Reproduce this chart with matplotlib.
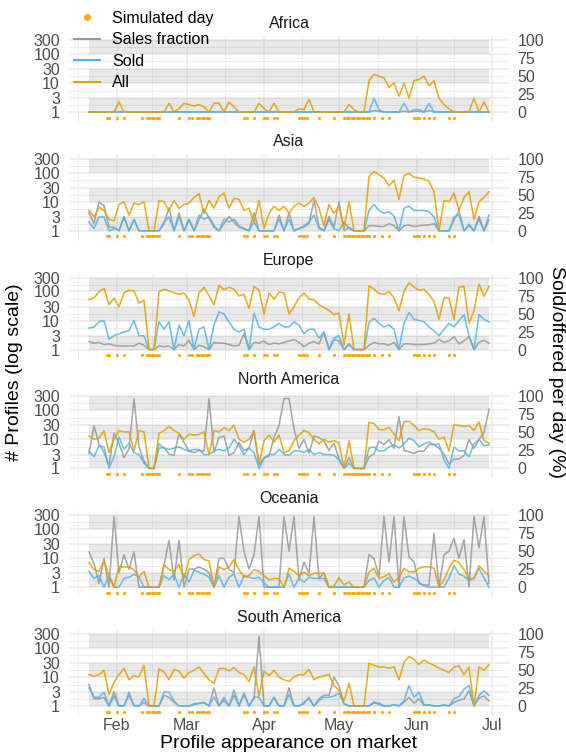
#!/usr/bin/env python3
"""Profiles per day and region (log scale) with the sold share on a second axis."""

import matplotlib

matplotlib.use("Agg")  # headless
import matplotlib.pyplot as plt  # noqa: E402
import numpy as np  # noqa: E402
import pandas as pd  # noqa: E402
from matplotlib.lines import Line2D  # noqa: E402
from matplotlib.ticker import FixedLocator, NullFormatter  # noqa: E402

plt.rcParams["font.family"] = ["Liberation Sans", "DejaVu Sans"]

REGIONS = ["Africa", "Asia", "Europe", "North America", "Oceania", "South America"]
START = "2022-01-21"
N_POINTS = 81  # one value every second day, 21 Jan .. 30 Jun

# days (counted from START) that were simulated
SIM_DAY_OFFSETS = [7, 8, 11, 14, 21, 23, 24, 25, 26, 27, 28, 36, 40, 41, 43, 44,
                   45, 46, 47, 48, 62, 63, 66, 70, 71, 74, 75, 84, 85, 86, 87, 92,
                   98, 102, 103, 104, 105, 106, 107, 108, 109, 110, 111, 112, 114,
                   117, 120, 130, 131, 132, 134, 136, 138, 144, 146]

AFRICA_ALL = [1, 1, 1, 1, 1, 1, 2.2, 1, 1, 1,
              1, 1, 1, 1, 1, 1, 2, 1, 1.3, 2,
              1.8, 1.6, 1.8, 1.5, 1, 2, 2, 1, 2.2, 1.5,
              1, 1, 1, 1, 2, 1.3, 1, 2, 1, 1,
              1, 1, 1.3, 1.2, 2.8, 1, 1, 1, 1, 1,
              1, 1, 1.8, 1.2, 1, 1, 12, 20, 17, 15,
              7, 10, 3.5, 10, 3, 12, 13, 17, 8, 12,
              3, 1.8, 1.3, 1, 1, 1, 1, 3, 1, 2.2,
              1]
AFRICA_SOLD = [1, 1, 1, 1, 1, 1, 1, 1, 1, 1,
               1, 1, 1, 1, 1, 1, 1, 1, 1, 1,
               1, 1, 1, 1, 1, 1, 1, 1, 1, 1,
               1, 1, 1, 1, 1, 1, 1, 1, 1, 1,
               1, 1, 1, 1, 1, 1, 1, 1, 1, 1,
               1, 1, 1, 1, 1, 1, 1, 3, 1.2, 1,
               1, 1, 1, 2, 1, 1.2, 1.2, 1, 2, 1,
               1, 1, 1, 1, 1, 1, 1, 1, 1, 1,
               1]
AFRICA_FRAC = [0, 0, 0, 0, 0, 0, 0, 0, 0, 0,
               0, 0, 0, 0, 0, 0, 0, 0, 0, 0,
               0, 0, 0, 0, 0, 0, 0, 0, 0, 0,
               0, 0, 0, 0, 0, 0, 0, 0, 0, 0,
               0, 0, 0, 0, 0, 0, 0, 0, 0, 0,
               0, 0, 0, 0, 0, 0, 0, 2, 1, 0,
               0, 0, 0, 1, 0, 1, 1, 0, 2, 0,
               0, 0, 0, 0, 0, 0, 0, 0, 0, 0,
               0]

ASIA_ALL = [5, 3, 6.5, 5, 2.5, 2.2, 8, 10, 3.5, 9,
            8, 10, 1, 1, 11, 10, 5, 11, 6, 8,
            9, 14, 19, 4, 11, 6, 15, 20, 6, 13,
            12, 5, 6, 2, 11, 1.2, 4, 7, 5, 7,
            4, 7, 9, 7, 9, 14, 6, 1.5, 8, 4,
            7, 1.2, 10, 1, 1, 1, 75, 110, 85, 65,
            35, 55, 12, 80, 95, 70, 65, 60, 50, 22,
            1, 11, 10, 20, 5, 14, 22, 2.5, 10, 14,
            22]
ASIA_SOLD = [2, 1.2, 3, 3, 1, 1.2, 1, 3, 1, 2.5,
             1, 1, 1, 1, 1, 2, 3, 1, 3, 1,
             2.5, 1, 3.5, 2.5, 3, 1.5, 1, 2.5, 2, 2.5,
             1.5, 1.2, 1, 2, 1, 1, 1, 1, 2.5, 1,
             2.5, 1, 1.2, 1.5, 2, 3.5, 1.2, 1, 2.4, 1.2,
             1, 2, 1.2, 1, 1, 1, 5, 8, 5, 4,
             4.5, 3.2, 1, 6, 7, 5, 5, 5, 4.5, 3,
             1, 1, 1, 3, 3.5, 1, 1.7, 1, 2.5, 1,
             3.5]
ASIA_FRAC = [25, 10, 40, 35, 5, 5, 0, 20, 0, 15,
             0, 0, 0, 0, 0, 10, 32, 0, 25, 0,
             15, 0, 15, 30, 18, 5, 0, 10, 20, 12,
             5, 3, 0, 25, 0, 0, 0, 0, 22, 0,
             25, 0, 3, 5, 10, 42, 5, 0, 20, 5,
             40, 0, 5, 0, 0, 0, 7, 7, 6, 6,
             10, 7, 0, 7, 8, 6, 7, 8, 8, 10,
             0, 0, 0, 15, 28, 0, 7, 0, 20, 0,
             15]

EUROPE_ALL = [53, 60, 98, 128, 35, 60, 30, 90, 110, 105,
              40, 50, 1, 1, 100, 118, 105, 90, 80, 88,
              50, 14, 90, 140, 70, 35, 160, 115, 140, 120,
              70, 80, 26, 150, 110, 17, 90, 55, 95, 90,
              17, 30, 60, 90, 55, 52, 35, 28, 22, 16,
              18, 1.5, 17, 1, 1, 1, 157, 120, 85, 80,
              100, 60, 22, 100, 200, 140, 110, 120, 80, 45,
              11, 60, 60, 11, 140, 150, 8, 22, 180, 68,
              150]
EUROPE_SOLD = [5.5, 6, 9, 10, 2.3, 3, 3.5, 4, 4.5, 10,
               3, 3, 1, 1, 9, 5, 9, 1, 7, 3,
               10, 1, 5, 6, 1, 7, 20, 17, 9, 5,
               4, 5, 1, 18, 6, 5, 5, 6, 8, 6,
               6, 9, 7, 3.5, 5, 5, 2.5, 4, 1, 2.5,
               3, 1, 1.5, 1, 1, 1, 8.5, 12, 8, 6,
               7, 5, 1, 8, 19, 11, 10, 9, 6, 4.5,
               3, 5, 8, 6, 10, 16, 3, 1, 16, 11,
               9]
EUROPE_FRAC = [11, 9, 10, 7, 8, 6, 5, 5, 5, 5,
               9, 6, 0, 0, 5, 4, 5, 0, 7, 5,
               13, 0, 6, 4, 0, 10, 9, 9, 7, 5,
               6, 22, 0, 10, 9, 12, 7, 9, 8, 10,
               12, 14, 10, 4, 9, 11, 8, 24, 0, 14,
               12, 0, 8, 0, 0, 0, 6, 10, 8, 8,
               6, 10, 0, 8, 8, 7, 7, 7, 8, 9,
               14, 10, 12, 18, 8, 12, 18, 0, 10, 13,
               9]

NAMERICA_ALL = [13, 10, 11, 20, 3.5, 10, 20, 18, 18, 4,
                20, 18, 1, 1, 16, 20, 28, 20, 16, 10,
                15, 14, 15, 18, 3, 20, 18, 25, 20, 30,
                10, 8, 10, 20, 1.5, 9, 14, 8, 14, 3.5,
                4, 9, 14, 20, 17, 10, 7, 10, 8, 9,
                7.5, 1, 9, 1, 1, 1, 38, 35, 22, 21,
                26, 15, 9, 40, 42, 30, 20, 23, 22, 18,
                10, 12, 4, 32, 30, 28, 30, 20, 40, 9,
                7.5]
NAMERICA_SOLD = [4, 2.5, 6, 5.5, 1, 2.5, 12, 4.5, 7.5, 3.5,
                 3, 1.5, 1, 1, 7, 5, 4.5, 5, 5.5, 4.5,
                 4, 4.5, 4.5, 3, 3, 4, 4.5, 4, 5, 10,
                 6, 3, 5, 3.5, 1, 2.2, 3, 3, 4.5, 3,
                 2.8, 4, 4, 3.5, 4.5, 3, 3.5, 3, 3, 2.8,
                 2, 1, 1.5, 1, 1, 1, 5, 5.5, 4, 4,
                 5.5, 6.5, 5, 7, 11, 9, 5.5, 7, 8, 6.5,
                 7, 2, 1, 5.5, 4, 4, 2.5, 7, 10, 6,
                 6.5]
NAMERICA_FRAC = [20, 59, 34, 22, 5, 49, 35, 15, 27, 97,
                 30, 10, 0, 0, 28, 29, 20, 18, 48, 36,
                 24, 22, 25, 24, 97, 22, 43, 45, 18, 22,
                 36, 25, 28, 52, 5, 15, 17, 43, 60, 97,
                 97, 55, 28, 40, 21, 45, 43, 38, 25, 35,
                 13, 0, 15, 0, 0, 0, 16, 20, 38, 33,
                 40, 28, 72, 25, 23, 21, 24, 24, 33, 33,
                 28, 20, 6, 13, 13, 18, 40, 28, 40, 50,
                 82]

OCEANIA_ALL = [7, 4, 3.5, 8, 2.5, 1, 5, 5, 5, 4,
               2.2, 3.5, 1, 1, 1, 6, 4, 3.5, 6, 2,
               9, 12, 14, 9, 8, 1, 5, 4, 5, 9,
               4, 2.2, 2.5, 4, 3.5, 2.5, 1.8, 2, 2, 1,
               4.5, 3.5, 2.5, 3.3, 2.5, 3, 3, 3, 1, 1.1,
               2.1, 1.2, 1.5, 1, 1, 1, 3.3, 4.4, 2, 2.3,
               3, 1.5, 2.2, 4.4, 3.4, 3.4, 4.5, 5, 5, 4.5,
               1, 1.8, 4.5, 8.5, 7, 4, 2, 2, 5.5, 3.5,
               2.5]
OCEANIA_SOLD = [3.5, 2, 2.5, 1, 2.5, 1, 1, 2, 2.2, 2.8,
                2.2, 1, 1, 1, 1, 2.5, 1.8, 2.8, 1, 2.8,
                1.5, 3.8, 3.3, 2.8, 2.2, 1, 2.5, 1, 2.2, 2.8,
                1, 2.5, 2.2, 2, 2.2, 1.4, 1, 1, 1, 1,
                2.8, 1, 2, 1.5, 2.2, 2, 2, 2, 1, 1,
                1, 1, 1, 1, 1, 1, 1.7, 2.1, 1, 1.7,
                2.2, 1, 1, 2.1, 2.4, 2, 1.5, 1.1, 1, 1,
                1, 1, 2.1, 5.5, 2.8, 2.4, 1.7, 2, 4.4, 2.1,
                1]
OCEANIA_FRAC = [49, 33, 5, 40, 0, 98, 20, 45, 25, 49,
                0, 0, 0, 0, 0, 30, 65, 10, 65, 0,
                25, 25, 28, 25, 20, 0, 40, 40, 25, 20,
                98, 50, 25, 45, 98, 0, 0, 0, 0, 98,
                50, 98, 10, 35, 19, 98, 12, 20, 0, 0,
                0, 0, 0, 0, 0, 0, 45, 40, 15, 98,
                35, 98, 0, 98, 42, 35, 5, 3, 3, 75,
                0, 45, 50, 68, 40, 66, 0, 98, 55, 98,
                5]

SAMERICA_ALL = [12, 10.5, 12, 17, 2.5, 6.5, 12, 20, 8, 11,
                10, 25, 1, 1, 19, 15, 8, 18, 16, 9,
                14, 17, 22, 13, 8, 6, 19, 20, 16, 21,
                14, 12, 7, 22, 2.2, 16, 11, 17, 10, 8,
                7, 10, 12, 12, 18, 8, 10, 11, 12, 5,
                3.5, 1.5, 6, 1, 1, 1, 30, 25, 22, 22,
                20, 22, 8, 32, 50, 40, 27, 38, 30, 25,
                20, 17, 14, 22, 24, 12, 22, 1, 22, 17,
                26]
SAMERICA_SOLD = [4.2, 2, 2, 3, 1, 2.2, 1, 1, 3, 1,
                 1, 1.8, 1, 1, 1, 3, 3, 1.5, 1, 1,
                 1, 1.1, 1.2, 1.3, 1, 2, 1, 2, 1, 3.5,
                 1, 2.5, 1, 2, 2, 1, 1, 2, 1, 1,
                 2.5, 1, 1, 1.2, 2, 1, 1.5, 2, 2, 2.2,
                 2.8, 1.2, 1, 1, 1, 1, 1, 1.4, 1.1, 1,
                 1, 1.1, 1, 1.5, 5, 2, 3, 1.1, 1.1, 1,
                 1, 1.1, 1, 1.8, 2.1, 3.8, 5, 1, 2.3, 3.3,
                 2.3]
SAMERICA_FRAC = [30, 10, 10, 12, 0, 20, 0, 0, 15, 0,
                 0, 5, 0, 0, 0, 15, 12, 5, 0, 0,
                 0, 3, 4, 5, 0, 25, 0, 8, 0, 15,
                 0, 18, 0, 10, 97, 0, 0, 12, 0, 0,
                 25, 0, 0, 5, 10, 0, 10, 15, 15, 40,
                 28, 3, 0, 0, 0, 0, 0, 4, 4, 0,
                 0, 2, 0, 5, 12, 4, 10, 1, 1, 0,
                 0, 1, 0, 5, 8, 10, 21, 0, 11, 14,
                 7]

ALL = dict(zip(REGIONS, [AFRICA_ALL, ASIA_ALL, EUROPE_ALL, NAMERICA_ALL,
                         OCEANIA_ALL, SAMERICA_ALL]))
SOLD = dict(zip(REGIONS, [AFRICA_SOLD, ASIA_SOLD, EUROPE_SOLD, NAMERICA_SOLD,
                          OCEANIA_SOLD, SAMERICA_SOLD]))
FRAC = dict(zip(REGIONS, [AFRICA_FRAC, ASIA_FRAC, EUROPE_FRAC, NAMERICA_FRAC,
                          OCEANIA_FRAC, SAMERICA_FRAC]))

Y_TICKS = [1, 3, 10, 30, 100, 300]
PCT_TICKS = [0, 25, 50, 75, 100]
MONTH_LABELS = ["Feb", "Mar", "Apr", "May", "Jun", "Jul"]

ORANGE = "#E69F00"
BLUE = "#56B4E9"
GRAY = "#999999"
DOT = "#FFA500"
GRID = "#ebebeb"
TICK_COL = "#4d4d4d"
LW = 1.15
ALPHA = 0.85

W, H = 566, 755
LEFT, RIGHT = 69, 509          # panel edges in pixels
PANEL_STEP = 118.8             # vertical distance between panels
SPAN = 72                      # pixels between the 1 and 300 gridlines
DEC = np.log10(300)
DEC_PX = DEC / SPAN
DOT_Y = 10 ** (-5.5 * DEC_PX)  # just below the panel floor


def to_pct(v):
    return np.log10(v) / DEC * 100


dates = pd.date_range(START, periods=N_POINTS, freq="2D")
sim_dates = pd.Timestamp(START) + pd.to_timedelta(SIM_DAY_OFFSETS, unit="D")
month_starts = pd.date_range("2022-01-01", "2022-08-01", freq="MS")
month_mids = month_starts[:-1] + (month_starts[1:] - month_starts[:-1]) / 2
major_months = month_starts[1:7]

for name in REGIONS:
    assert len(ALL[name]) == len(SOLD[name]) == len(FRAC[name]) == N_POINTS, name

fig = plt.figure(figsize=(W / 100, H / 100), dpi=100)
ylo = 10 ** (-10 * DEC_PX)
yhi = 300 * 10 ** (4 * DEC_PX)
xlo = dates[0] - pd.Timedelta(days=8)
xhi = dates[-1] + pd.Timedelta(days=8)
y_minor = [np.sqrt(a * b) for a, b in zip(Y_TICKS[:-1], Y_TICKS[1:])]

for k, region in enumerate(REGIONS):
    top = 40 + PANEL_STEP * k - 4
    bot = top + 4 + SPAN + 10
    rect = [LEFT / W, 1 - bot / H, (RIGHT - LEFT) / W, (bot - top) / H]

    # base layer: grid, shaded bands, left ticks
    ax = fig.add_axes(rect)
    ax.set_yscale("log")
    ax.set_ylim(ylo, yhi)
    ax.set_xlim(xlo, xhi)
    ax.set_axisbelow(True)
    for lo, hi in [(1, 3), (10, 30), (100, 300)]:
        ax.fill_between([dates[0], dates[-1]], lo, hi, color="#000000",
                        alpha=0.085, lw=0, zorder=1)
    ax.set_yticks(Y_TICKS, labels=[str(t) for t in Y_TICKS])
    ax.yaxis.set_minor_locator(FixedLocator(y_minor))
    ax.yaxis.set_minor_formatter(NullFormatter())
    ax.set_xticks(major_months, labels=MONTH_LABELS)
    ax.xaxis.set_minor_locator(FixedLocator(matplotlib.dates.date2num(month_mids)))
    ax.grid(True, which="major", color=GRID, lw=1.1)
    ax.grid(True, which="minor", color=GRID, lw=0.6)
    ax.tick_params(which="both", length=0, labelsize=11.5, labelcolor=TICK_COL)
    ax.tick_params(axis="y", pad=6.5)
    ax.tick_params(axis="x", pad=1.5, labelbottom=(k == len(REGIONS) - 1))
    ax.set_title(region, fontsize=11.5, color="#1a1a1a", pad=6)

    # middle layer: sales fraction on the right-hand percentage axis
    ax2 = ax.twinx()
    ax2.set_ylim(to_pct(ylo), to_pct(yhi))
    ax2.plot(dates, FRAC[region], color=GRAY, lw=LW, alpha=ALPHA)
    ax2.set_yticks(PCT_TICKS, labels=[str(t) for t in PCT_TICKS])
    ax2.tick_params(length=0, labelsize=11.5, labelcolor=TICK_COL, pad=6)

    # top layer: counts and simulated days
    ax3 = ax.twinx()
    ax3.set_yscale("log")
    ax3.set_ylim(ylo, yhi)
    ax3.plot(dates, SOLD[region], color=BLUE, lw=LW, alpha=ALPHA)
    ax3.plot(dates, ALL[region], color=ORANGE, lw=LW, alpha=ALPHA)
    ax3.scatter(sim_dates, np.full(len(sim_dates), DOT_Y), s=5, color=DOT,
                lw=0, clip_on=False)
    ax3.yaxis.set_visible(False)

    for a in (ax, ax2, ax3):
        for sp in a.spines.values():
            sp.set_visible(False)

handles = [
    Line2D([], [], ls="none", marker="o", ms=4, color=DOT),
    Line2D([], [], color=GRAY, lw=1.5),
    Line2D([], [], color=BLUE, lw=1.5),
    Line2D([], [], color=ORANGE, lw=1.5),
]
fig.legend(handles, ["Simulated day", "Sales fraction", "Sold", "All"],
           loc="upper left", bbox_to_anchor=(74 / W, 1 - 11 / H),
           frameon=False, fontsize=11.5, handlelength=1.6, handletextpad=0.8,
           labelspacing=0.4, borderpad=0, borderaxespad=0)

fig.text(15 / W, 1 - 372 / H, "# Profiles (log scale)", rotation=90,
         ha="center", va="center", fontsize=14)
fig.text(556 / W, 1 - 372 / H, "Sold/offered per day (%)", rotation=270,
         ha="center", va="center", fontsize=14)
fig.text(289 / W, 1 - 744 / H, "Profile appearance on market",
         ha="center", va="center", fontsize=14)

fig.savefig("out.png", dpi=100)
